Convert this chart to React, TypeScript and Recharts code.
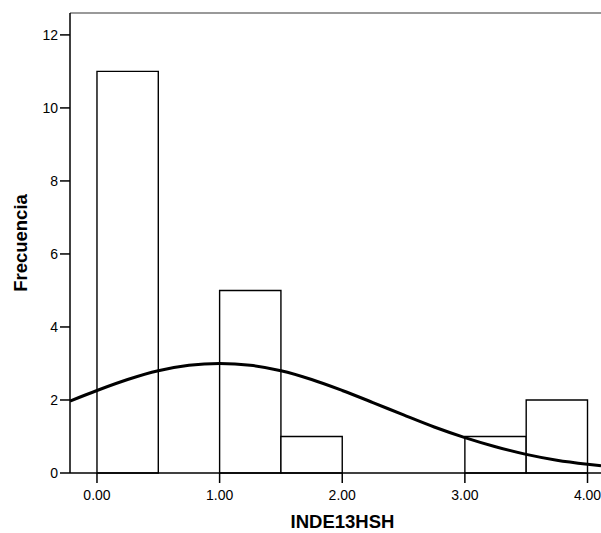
import { ComposedChart, Line, ReferenceArea, ReferenceLine, XAxis, YAxis } from 'recharts';

// histogram bins (width 0.5) and their frequencies
const binStarts = [0, 0.5, 1, 1.5, 2, 2.5, 3, 3.5];
const binCounts = [11, 0, 5, 1, 0, 0, 1, 2];
const binWidth = 0.5;

// normal curve overlay
const curveX = [-0.22, 0, 0.25, 0.5, 0.75, 1, 1.25, 1.5, 1.75, 2, 2.25, 2.5, 2.75, 3, 3.25, 3.5, 3.75, 4, 4.11];
const curveY = [1.97, 2.26, 2.56, 2.8, 2.95, 3.0, 2.95, 2.8, 2.56, 2.26, 1.93, 1.59, 1.26, 0.97, 0.72, 0.51, 0.35, 0.24, 0.2];

const xTicks = [0, 1, 2, 3, 4];
const yTicks = [0, 2, 4, 6, 8, 10, 12];
const xDomain = [-0.22, 4.11];
const yMax = 12.6;

const curveData = curveX.map((x, i) => ({ x, y: curveY[i] }));

const FONT = '"Liberation Sans", Arial, sans-serif';
const tickStyle = { fill: '#000', fontSize: 14, fontFamily: FONT };
const titleStyle = { fontFamily: FONT, fontSize: 18.5, fontWeight: 'bold', fill: '#000' };

export default function App() {
  return (
    <div style={{ position: 'absolute', left: 0, top: 0, background: '#fff' }}>
      <ComposedChart width={601} height={533} data={curveData} margin={{ top: 13, right: 0, left: 0, bottom: 0 }}>
        <XAxis
          dataKey="x"
          type="number"
          domain={xDomain}
          ticks={xTicks}
          allowDataOverflow
          tickFormatter={(v: number) => v.toFixed(2)}
          height={60}
          tick={tickStyle}
          tickSize={10}
          tickMargin={7}
          stroke="#000"
          strokeWidth={1.5}
          label={({ viewBox }: any) => (
            <text x={viewBox.x + viewBox.width / 2 + 7} y={viewBox.y + 55} textAnchor="middle" style={titleStyle}>
              INDE13HSH
            </text>
          )}
        />
        <YAxis
          type="number"
          domain={[0, yMax]}
          ticks={yTicks}
          allowDataOverflow
          width={70}
          tick={tickStyle}
          tickSize={10}
          tickMargin={2}
          stroke="#000"
          strokeWidth={1.5}
          label={({ viewBox }: any) => {
            const cy = viewBox.y + viewBox.height / 2;
            return (
              <text x={27} y={cy} transform={`rotate(-90 27 ${cy})`} textAnchor="middle" style={titleStyle}>
                Frecuencia
              </text>
            );
          }}
        />
        <ReferenceLine y={yMax} stroke="#777" strokeWidth={1.5} />
        {binStarts.map((start, i) => (
          <ReferenceArea
            key={start}
            x1={start}
            x2={start + binWidth}
            y1={0}
            y2={binCounts[i]}
            fill="#fff"
            fillOpacity={1}
            stroke="#000"
            strokeWidth={1.4}
          />
        ))}
        <Line
          type="monotone"
          dataKey="y"
          stroke="#000"
          strokeWidth={3}
          dot={false}
          isAnimationActive={false}
        />
      </ComposedChart>
    </div>
  );
}
